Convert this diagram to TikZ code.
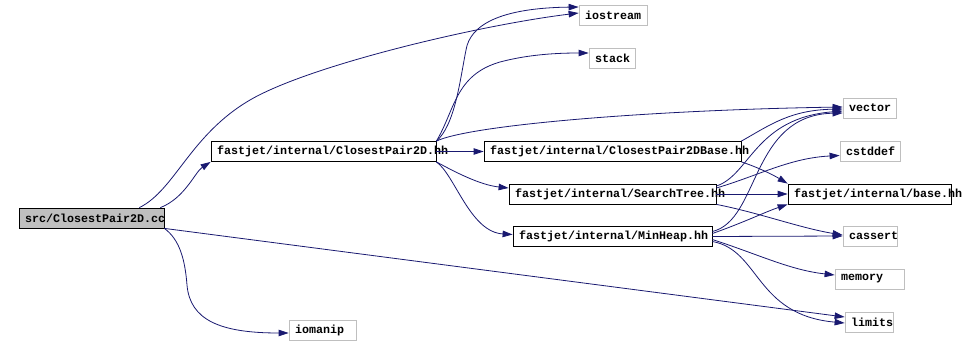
\documentclass[tikz,border=0pt]{standalone}
\usepackage{fontspec}
\setmonofont[HyphenChar=None]{Liberation Mono}
\usepackage{tikz}
\usetikzlibrary{arrows.meta}
\definecolor{edgeblue}{RGB}{25,25,112}
\definecolor{boxgray}{RGB}{191,191,191}

\begin{document}
\begin{tikzpicture}[x=1pt,y=-1pt,>={Triangle[length=10pt,width=6.5pt]},
  font=\ttfamily\bfseries\fontsize{11.67}{14}\selectfont,
  hdr/.style={draw=black,fill=white,line width=0.8pt,align=left,inner xsep=6pt,inner ysep=0pt,minimum height=20pt,text width=#1},
  sys/.style={hdr=#1,draw=boxgray},
  src/.style={hdr=#1,fill=boxgray},
  dep/.style={->,draw=edgeblue,line width=0.8pt}]
\useasboundingbox (0,0) rectangle (966,345);
\node[src=133pt] (cc) at (91.5,218) {src/ClosestPair2D.cc};
\node[hdr=213pt] (cp) at (323.5,151.5) {fastjet/internal/ClosestPair2D.hh};
\node[hdr=245pt] (base2d) at (612.5,151.5) {fastjet/internal/ClosestPair2DBase.hh};
\node[hdr=195pt] (tree) at (612.5,194) {fastjet/internal/SearchTree.hh};
\node[hdr=187pt] (heap) at (612.5,236.5) {fastjet/internal/MinHeap.hh};
\node[hdr=151pt] (base) at (869.5,194) {fastjet/internal/base.hh};
\node[sys=56pt] (iostream) at (613,15) {iostream};
\node[sys=34pt] (stack) at (612,58) {stack};
\node[sys=41pt] (vector) at (869.5,108) {vector};
\node[sys=48pt] (cstddef) at (870,151.5) {cstddef};
\node[sys=42pt] (cassert) at (870,236) {cassert};
\node[sys=57pt] (memory) at (869.5,279) {memory};
\node[sys=36pt] (limits) at (869,322) {limits};
\node[sys=55pt] (iomanip) at (322.5,330) {iomanip};
\draw[dep] ([xshift=-25pt]cc.north east) .. controls (175,190) and (190,135) .. (250,100) .. controls (310,65) and (480,25) .. ([yshift=2pt]iostream.west);
\draw[dep] ([xshift=-4pt]cc.north east) .. controls (185,198) and (195,172) .. (cp.south west);
\draw[dep] (cc.south east) .. controls (180,240) and (185,260) .. (187,285) .. controls (190,320) and (220,333) .. ([yshift=-3pt]iomanip.west);
\draw[dep] (cc.south east) -- ([yshift=5pt]limits.west);
\draw[dep] (cp.north east) .. controls (455,125) and (460,80) .. (466,50) .. controls (470,25) and (500,8) .. ([yshift=8pt]iostream.west);
\draw[dep] (cp.north east) .. controls (455,110) and (455,75) .. (500,62) .. controls (530,54) and (560,53) .. ([yshift=5pt]stack.west);
\draw[dep] (cp.north east) .. controls (470,125) and (650,110) .. ([yshift=1pt]vector.west);
\draw[dep] (cp.east) -- (base2d.west);
\draw[dep] (cp.south east) .. controls (455,172) and (480,185) .. ([yshift=6pt]tree.west);
\draw[dep] (cp.south east) .. controls (455,175) and (470,232) .. ([yshift=2pt]heap.west);
\draw[dep] (base2d.north east) .. controls (770,125) and (790,110) .. ([yshift=-1pt]vector.west);
\draw[dep] (base2d.south east) .. controls (760,168) and (775,176) .. (base.north west);
\draw[dep] ([yshift=8pt]tree.east) .. controls (750,175) and (755,118) .. ([yshift=-3pt]vector.west);
\draw[dep] ([yshift=6pt]tree.east) .. controls (760,175) and (790,158) .. ([yshift=-4pt]cstddef.west);
\draw[dep] (tree.east) -- (base.west);
\draw[dep] (tree.south east) .. controls (760,213) and (800,228) .. ([yshift=1pt]cassert.west);
\draw[dep] ([yshift=5pt]heap.east) .. controls (760,220) and (750,115) .. ([yshift=-5pt]vector.west);
\draw[dep] ([yshift=3pt]heap.east) .. controls (745,222) and (765,212) .. (base.south west);
\draw[dep] (heap.east) -- (cassert.west);
\draw[dep] ([yshift=-3pt]heap.east) .. controls (760,255) and (790,270) .. ([yshift=4pt]memory.west);
\draw[dep] ([yshift=-5pt]heap.east) .. controls (760,250) and (755,315) .. ([yshift=-1pt]limits.west);
\end{tikzpicture}
\end{document}
